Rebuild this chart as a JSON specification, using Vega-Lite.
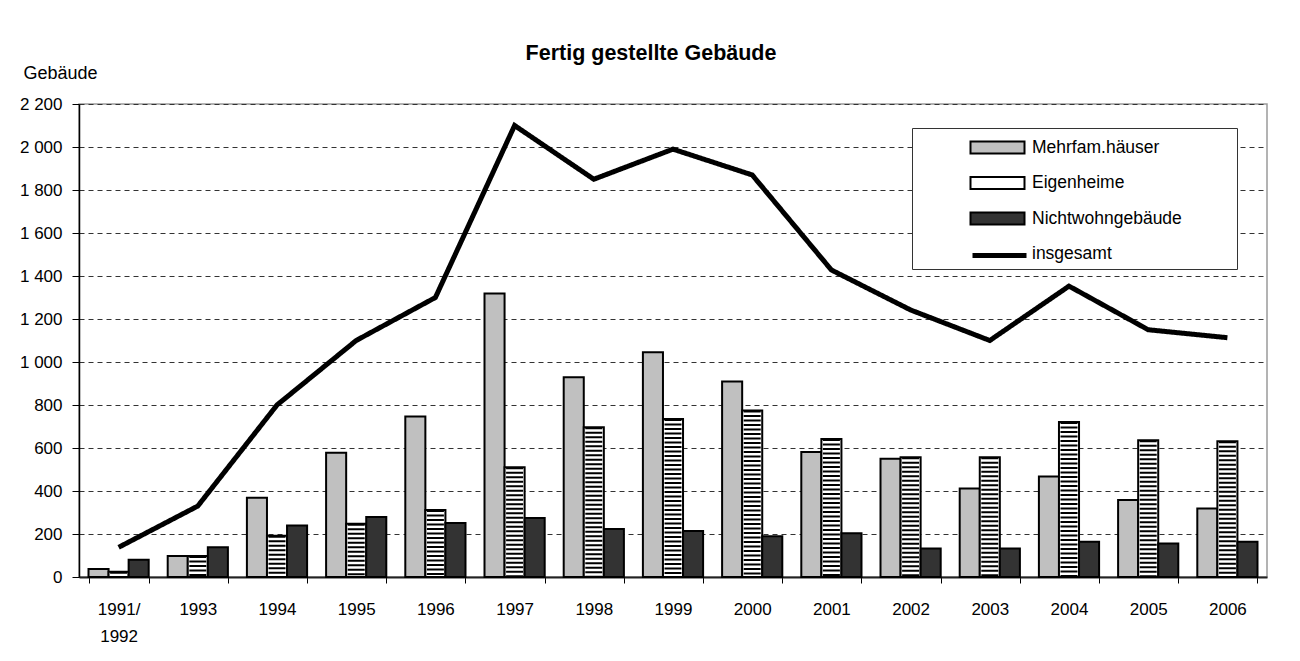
{
  "$schema": "https://vega.github.io/schema/vega-lite/v6.json",
  "width": 1188,
  "height": 473,
  "autosize": {"type": "none"},
  "padding": {"left": 79, "top": 104, "right": 33, "bottom": 84},
  "background": "white",
  "title": {"text": "Fertig gestellte Gebäude", "font": "Liberation Sans", "fontSize": 21.5, "fontWeight": "bold", "color": "black", "anchor": "middle", "dx": -22, "offset": 0},
  "config": {
    "font": "Liberation Sans",
    "view": {"stroke": "#9a9a9a", "strokeWidth": 1.5}
  },
  "data": {"values": [
    {"jahr": "1991/1992", "art": "Mehrfam.häuser", "anzahl": 37},
    {"jahr": "1991/1992", "art": "Eigenheime", "anzahl": 25},
    {"jahr": "1991/1992", "art": "Nichtwohngebäude", "anzahl": 80},
    {"jahr": "1991/1992", "art": "insgesamt", "anzahl": 138},
    {"jahr": "1993", "art": "Mehrfam.häuser", "anzahl": 98},
    {"jahr": "1993", "art": "Eigenheime", "anzahl": 98},
    {"jahr": "1993", "art": "Nichtwohngebäude", "anzahl": 138},
    {"jahr": "1993", "art": "insgesamt", "anzahl": 330},
    {"jahr": "1994", "art": "Mehrfam.häuser", "anzahl": 369},
    {"jahr": "1994", "art": "Eigenheime", "anzahl": 192},
    {"jahr": "1994", "art": "Nichtwohngebäude", "anzahl": 239},
    {"jahr": "1994", "art": "insgesamt", "anzahl": 800},
    {"jahr": "1995", "art": "Mehrfam.häuser", "anzahl": 578},
    {"jahr": "1995", "art": "Eigenheime", "anzahl": 248},
    {"jahr": "1995", "art": "Nichtwohngebäude", "anzahl": 279},
    {"jahr": "1995", "art": "insgesamt", "anzahl": 1100},
    {"jahr": "1996", "art": "Mehrfam.häuser", "anzahl": 746},
    {"jahr": "1996", "art": "Eigenheime", "anzahl": 312},
    {"jahr": "1996", "art": "Nichtwohngebäude", "anzahl": 251},
    {"jahr": "1996", "art": "insgesamt", "anzahl": 1300},
    {"jahr": "1997", "art": "Mehrfam.häuser", "anzahl": 1319},
    {"jahr": "1997", "art": "Eigenheime", "anzahl": 510},
    {"jahr": "1997", "art": "Nichtwohngebäude", "anzahl": 274},
    {"jahr": "1997", "art": "insgesamt", "anzahl": 2100},
    {"jahr": "1998", "art": "Mehrfam.häuser", "anzahl": 929},
    {"jahr": "1998", "art": "Eigenheime", "anzahl": 696},
    {"jahr": "1998", "art": "Nichtwohngebäude", "anzahl": 223},
    {"jahr": "1998", "art": "insgesamt", "anzahl": 1850},
    {"jahr": "1999", "art": "Mehrfam.häuser", "anzahl": 1045},
    {"jahr": "1999", "art": "Eigenheime", "anzahl": 735},
    {"jahr": "1999", "art": "Nichtwohngebäude", "anzahl": 214},
    {"jahr": "1999", "art": "insgesamt", "anzahl": 1990},
    {"jahr": "2000", "art": "Mehrfam.häuser", "anzahl": 909},
    {"jahr": "2000", "art": "Eigenheime", "anzahl": 774},
    {"jahr": "2000", "art": "Nichtwohngebäude", "anzahl": 189},
    {"jahr": "2000", "art": "insgesamt", "anzahl": 1870},
    {"jahr": "2001", "art": "Mehrfam.häuser", "anzahl": 581},
    {"jahr": "2001", "art": "Eigenheime", "anzahl": 642},
    {"jahr": "2001", "art": "Nichtwohngebäude", "anzahl": 203},
    {"jahr": "2001", "art": "insgesamt", "anzahl": 1428},
    {"jahr": "2002", "art": "Mehrfam.häuser", "anzahl": 550},
    {"jahr": "2002", "art": "Eigenheime", "anzahl": 557},
    {"jahr": "2002", "art": "Nichtwohngebäude", "anzahl": 133},
    {"jahr": "2002", "art": "insgesamt", "anzahl": 1242},
    {"jahr": "2003", "art": "Mehrfam.häuser", "anzahl": 412},
    {"jahr": "2003", "art": "Eigenheime", "anzahl": 557},
    {"jahr": "2003", "art": "Nichtwohngebäude", "anzahl": 133},
    {"jahr": "2003", "art": "insgesamt", "anzahl": 1100},
    {"jahr": "2004", "art": "Mehrfam.häuser", "anzahl": 467},
    {"jahr": "2004", "art": "Eigenheime", "anzahl": 721},
    {"jahr": "2004", "art": "Nichtwohngebäude", "anzahl": 164},
    {"jahr": "2004", "art": "insgesamt", "anzahl": 1353},
    {"jahr": "2005", "art": "Mehrfam.häuser", "anzahl": 358},
    {"jahr": "2005", "art": "Eigenheime", "anzahl": 636},
    {"jahr": "2005", "art": "Nichtwohngebäude", "anzahl": 156},
    {"jahr": "2005", "art": "insgesamt", "anzahl": 1150},
    {"jahr": "2006", "art": "Mehrfam.häuser", "anzahl": 319},
    {"jahr": "2006", "art": "Eigenheime", "anzahl": 631},
    {"jahr": "2006", "art": "Nichtwohngebäude", "anzahl": 164},
    {"jahr": "2006", "art": "insgesamt", "anzahl": 1113}
  ]},
  "encoding": {
    "x": {
      "field": "jahr", "type": "nominal", "sort": null,
      "scale": {"paddingInner": 0.24, "paddingOuter": 0.12},
      "axis": {
        "title": null, "labelAngle": 0, "tickBand": "extent", "tickSize": 6, "tickColor": "black",
        "domainColor": "#222", "domainWidth": 2, "labelFontSize": 17, "labelColor": "black",
        "labelPadding": 18, "labelLineHeight": 27, "labelBaseline": "top",
        "labelExpr": "datum.value === '1991/1992' ? ['1991/', '1992'] : datum.value"
      }
    },
    "y": {
      "field": "anzahl", "type": "quantitative",
      "scale": {"domain": [0, 2200], "nice": false},
      "axis": {
        "title": "Gebäude", "titleAngle": 0, "titleAlign": "left", "titleBaseline": "alphabetic",
        "titleX": -56, "titleY": -26, "titleFontSize": 18, "titleFontWeight": "normal", "titleColor": "black",
        "values": [0, 200, 400, 600, 800, 1000, 1200, 1400, 1600, 1800, 2000, 2200],
        "labelExpr": "replace(format(datum.value, ','), ',', ' ')",
        "labelFontSize": 17, "labelColor": "black", "labelPadding": 10,
        "tickSize": 7, "tickColor": "black", "domainColor": "black", "domainWidth": 1.5,
        "gridDash": [5, 4], "gridColor": "#333", "gridWidth": 1
      }
    }
  },
  "layer": [
    {
      "transform": [{"filter": "datum.art !== 'insgesamt'"}],
      "mark": {"type": "bar", "strokeWidth": 2},
      "encoding": {
        "xOffset": {"field": "art", "type": "nominal", "scale": {"domain": ["Mehrfam.häuser", "Eigenheime", "Nichtwohngebäude"], "paddingInner": 0, "paddingOuter": 0}},
        "color": {
          "field": "art", "type": "nominal",
          "scale": {"domain": ["Mehrfam.häuser", "Eigenheime", "Nichtwohngebäude", "insgesamt"], "range": ["#c0c0c0", "#ffffff", "#333333", "transparent"]},
          "legend": {
            "title": "\u00a0", "titleOrient": "right", "titlePadding": 50,
            "orient": "none", "legendX": 833, "legendY": 24,
            "padding": 5, "strokeColor": "#333", "fillColor": "white",
            "symbolType": "M-2,-0.44H2V0.44H-2Z", "symbolSize": 729,
            "symbolStrokeWidth": 2,
            "symbolOffset": 66, "labelOffset": 20, "labelFontSize": 17.5, "labelColor": "black",
            "rowPadding": 10.5
          }
        },
        "stroke": {
          "field": "art", "type": "nominal",
          "scale": {"domain": ["Mehrfam.häuser", "Eigenheime", "Nichtwohngebäude", "insgesamt"], "range": ["#000000", "#000000", "#000000", "transparent"]},
          "legend": {
            "title": "\u00a0", "titleOrient": "right", "titlePadding": 50,
            "orient": "none", "legendX": 833, "legendY": 24,
            "padding": 5, "strokeColor": "#333", "fillColor": "white",
            "symbolType": "M-2,-0.44H2V0.44H-2Z", "symbolSize": 729,
            "symbolStrokeWidth": 2,
            "symbolOffset": 66, "labelOffset": 20, "labelFontSize": 17.5, "labelColor": "black",
            "rowPadding": 10.5
          }
        }
      }
    },
    {
      "transform": [{"filter": "datum.art === 'Eigenheime'"}],
      "mark": {"type": "rule", "strokeWidth": 17, "strokeDash": [2, 2.5], "color": "black"},
      "encoding": {
        "xOffset": {"field": "art", "type": "nominal", "scale": {"domain": ["Mehrfam.häuser", "Eigenheime", "Nichtwohngebäude"], "paddingInner": 0, "paddingOuter": 0}},
        "y2": {"datum": 0}
      }
    },
    {
      "transform": [{"filter": "datum.art === 'insgesamt'"}],
      "mark": {"type": "line", "color": "black", "strokeWidth": 5, "strokeJoin": "miter"},
      "encoding": {
        "strokeDash": {
          "field": "art", "type": "nominal",
          "scale": {"range": [[1, 0]]},
          "legend": {
            "title": null, "orient": "none", "legendX": 891, "legendY": 122,
            "padding": 0, "symbolType": "stroke", "symbolSize": 2916,
            "symbolStrokeWidth": 5, "symbolStrokeColor": "black",
            "symbolOffset": 0, "labelExpr": "''", "labelFontSize": 1
          }
        }
      }
    }
  ]
}
